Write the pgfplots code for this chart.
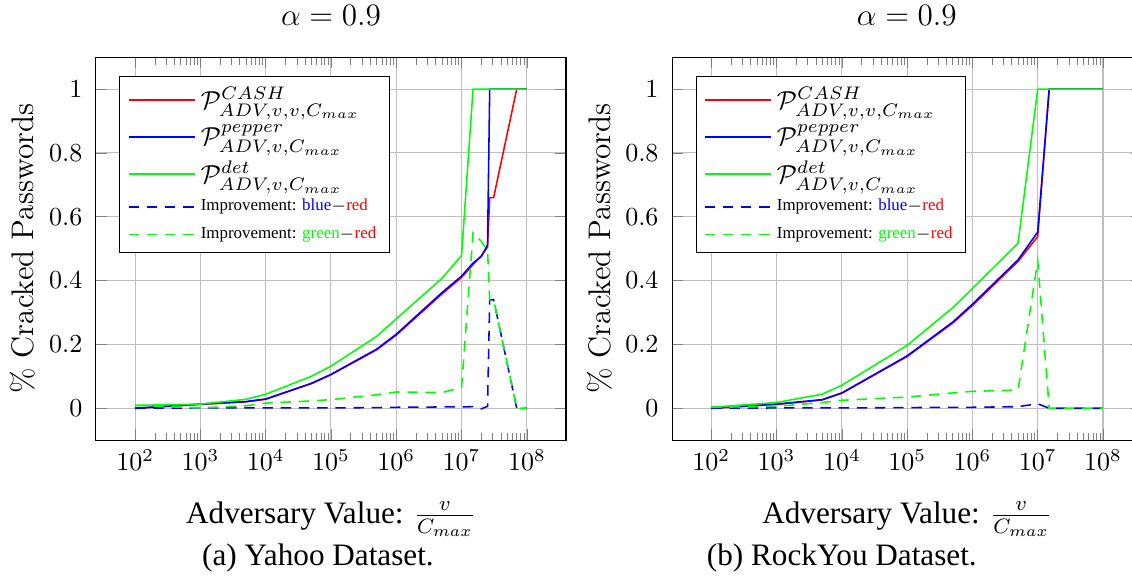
\documentclass[border=0pt]{standalone}
\usepackage{fontspec}
\usepackage{pgfplots}
\usepackage{pgfplotstable}
\pgfplotsset{compat=1.18}
\newfontfamily\tnr{Liberation Serif}
\newfontfamily\tnrB[Color=0000FF]{Liberation Serif}
\newfontfamily\tnrR[Color=FF0000]{Liberation Serif}
\newfontfamily\tnrG[Color=00FF00]{Liberation Serif}

\pgfplotstableread{
x red blue green bd gd
100 0 0 0.009 0 0.009
1000 0.012 0.013 0.013 0.001 0.001
5000 0.020 0.021 0.028 0.001 0.008
10000 0.028 0.029 0.044 0.001 0.016
50000 0.077 0.078 0.100 0.001 0.023
100000 0.105 0.106 0.132 0.001 0.027
500000 0.183 0.185 0.225 0.002 0.042
1000000 0.229 0.232 0.280 0.003 0.051
5000000 0.358 0.362 0.407 0.004 0.049
10000000 0.410 0.414 0.479 0.004 0.065
15000000 0.450 0.455 1 0.005 0.550
20000000 0.477 0.475 1 -0.002 0.523
25000000 0.505 0.511 1 0.006 0.495
27000000 0.660 1 1 0.340 0.340
31000000 0.660 1 1 0.340 0.340
70000000 1 1 1 0 0
100000000 1 1 1 0 0
}\yahoo

\pgfplotstableread{
x red blue green bd gd
100 0 0 0.003 0 0.003
1000 0.012 0.013 0.018 0.001 0.006
5000 0.026 0.027 0.044 0.001 0.018
10000 0.047 0.048 0.072 0.001 0.025
100000 0.162 0.164 0.197 0.002 0.035
500000 0.267 0.270 0.315 0.003 0.048
1000000 0.322 0.326 0.375 0.003 0.053
5000000 0.460 0.465 0.517 0.005 0.057
10000000 0.538 0.552 1 0.014 0.462
15000000 1 1 1 0 0
100000000 1 1 1 0 0
}\rockyou

\newcommand{\impB}{{\fontsize{6.5}{8}\selectfont\tnr Improvement: \tnrB blue\tnr$-$\tnrR red}}
\newcommand{\impG}{{\fontsize{6.5}{8}\selectfont\tnr Improvement: \tnrG green\tnr$-$\tnrR red}}
\newcommand{\Pa}{$\mathcal{P}^{CASH}_{ADV,v,v,C_{max}}$}
\newcommand{\Pb}{$\mathcal{P}^{pepper}_{ADV,v,C_{max}}$}
\newcommand{\Pc}{$\mathcal{P}^{det}_{ADV,v,C_{max}}$}

\begin{document}
\begin{tikzpicture}
\begin{axis}[at={(36.9pt,51.9pt)}, anchor=south west,
    xmode=log, scale only axis, width=180.8pt, height=147.3pt,
    xmin=25.119, xmax=398107170,
    ymin=-0.1, ymax=1.1,
    ytick={0,0.2,0.4,0.6,0.8,1},
    xtick={1e2,1e3,1e4,1e5,1e6,1e7,1e8},
    grid=major,
    tick label style={font=\normalsize},
    yticklabel style={xshift=-1.7pt},
    xlabel={\tnr\large Adversary Value: $\frac{v}{C_{max}}$},
    xlabel style={at={(axis description cs:0.5,-0.206)}, anchor=center},
    ylabel={\large\% Cracked Passwords},
    ylabel style={at={(axis description cs:-0.155,0.5)}, anchor=center},
    legend style={at={(0.05,0.95)}, anchor=north west, font=\fontsize{10.4}{12.5}\selectfont,
      cells={anchor=west}, draw=black, row sep=0.6pt},
    legend image code/.code={\draw[#1] (0pt,0pt) -- (22.3pt,0pt); \path (0pt,0pt) -- (25.5pt,0pt);},
  ]
\addplot[color=red, line width=0.6pt, no marks] table[x=x,y=red] {\yahoo};
\addplot[color=blue, line width=0.6pt, no marks] table[x=x,y=blue] {\yahoo};
\addplot[color=green, line width=0.6pt, no marks] table[x=x,y=green] {\yahoo};
\addplot[color=blue, line width=0.6pt, dash pattern=on 4pt off 3pt, no marks] table[x=x,y=bd] {\yahoo};
\addplot[color=green, line width=0.6pt, dash pattern=on 4pt off 3pt, no marks] table[x=x,y=gd] {\yahoo};
\legend{\Pa, \Pb, \Pc, \impB, \impG}
\end{axis}
\begin{axis}[at={(258.5pt,51.9pt)}, anchor=south west,
    xmode=log, scale only axis, width=180.8pt, height=147.3pt,
    xmin=25.119, xmax=398107170,
    ymin=-0.1, ymax=1.1,
    ytick={0,0.2,0.4,0.6,0.8,1},
    xtick={1e2,1e3,1e4,1e5,1e6,1e7,1e8},
    grid=major,
    tick label style={font=\normalsize},
    yticklabel style={xshift=-1.7pt},
    xlabel={\tnr\large Adversary Value: $\frac{v}{C_{max}}$},
    xlabel style={at={(axis description cs:0.5,-0.206)}, anchor=center},
    ylabel={\large\% Cracked Passwords},
    ylabel style={at={(axis description cs:-0.155,0.5)}, anchor=center},
    legend style={at={(0.05,0.95)}, anchor=north west, font=\fontsize{10.4}{12.5}\selectfont,
      cells={anchor=west}, draw=black, row sep=0.6pt},
    legend image code/.code={\draw[#1] (0pt,0pt) -- (22.3pt,0pt); \path (0pt,0pt) -- (25.5pt,0pt);},
  ]
\addplot[color=red, line width=0.6pt, no marks] table[x=x,y=red] {\rockyou};
\addplot[color=blue, line width=0.6pt, no marks] table[x=x,y=blue] {\rockyou};
\addplot[color=green, line width=0.6pt, no marks] table[x=x,y=green] {\rockyou};
\addplot[color=blue, line width=0.6pt, dash pattern=on 4pt off 3pt, no marks] table[x=x,y=bd] {\rockyou};
\addplot[color=green, line width=0.6pt, dash pattern=on 4pt off 3pt, no marks] table[x=x,y=gd] {\rockyou};
\legend{\Pa, \Pb, \Pc, \impB, \impG}
\end{axis}
\node[font=\large, anchor=base] at (127.3pt,211.5pt) {$\alpha=0.9$};
\node[font=\large, anchor=base] at (348.8pt,211.5pt) {$\alpha=0.9$};
\node[font=\tnr\fontsize{12}{14}\selectfont] at (122.3pt,6.5pt) {(a) Yahoo Dataset.};
\node[font=\tnr\fontsize{12}{14}\selectfont] at (323.8pt,6.5pt) {(b) RockYou Dataset.};
\pgfresetboundingbox
\useasboundingbox (0,0) rectangle (435.4pt,221.2pt);
\end{tikzpicture}
\end{document}
